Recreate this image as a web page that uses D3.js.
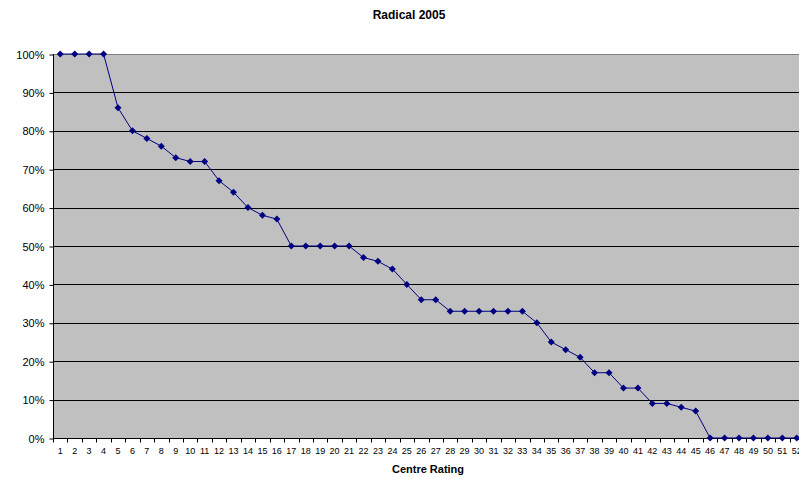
<!DOCTYPE html>
<html>
<head>
<meta charset="utf-8">
<script src="https://cdn.jsdelivr.net/npm/d3@7"></script>
<style>
  body { margin: 0; background: #fff; }
  svg { display: block; font-family: "Liberation Sans", Arial, sans-serif; }
</style>
</head>
<body>
<svg id="chart" width="799" height="479"></svg>
<script>
// centre ratings 1..52
const ratings = d3.range(1, 53);
// percentage of centres at or above each rating
const shares = [
  100, 100, 100, 100, 86, 80, 78, 76, 73, 72,
  72, 67, 64, 60, 58, 57, 50, 50, 50, 50,
  50, 47, 46, 44, 40, 36, 36, 33, 33, 33,
  33, 33, 33, 30, 25, 23, 21, 17, 17, 13,
  13, 9, 9, 8, 7, 0, 0, 0, 0, 0,
  0, 0,
];
const yTicks = d3.range(0, 101, 10);

const svg = d3.select('#chart');
const plot = { left: 53, right: 804, top: 54, bottom: 438 };

const x = d3.scaleBand()
  .domain(ratings)
  .range([plot.left, plot.right]);

const y = d3.scaleLinear()
  .domain([0, 100])
  .range([plot.bottom, plot.top]);

// plot background
svg.append('rect')
  .attr('x', plot.left)
  .attr('y', plot.top)
  .attr('width', plot.right - plot.left)
  .attr('height', plot.bottom - plot.top)
  .attr('fill', '#c0c0c0');

// gridlines
svg.append('g')
  .selectAll('line')
  .data(yTicks.filter(d => d > 0))
  .enter()
  .append('line')
  .attr('x1', plot.left)
  .attr('x2', plot.right)
  .attr('y1', d => Math.round(y(d)) + 0.5)
  .attr('y2', d => Math.round(y(d)) + 0.5)
  .attr('stroke', d => (d === 100 ? '#808080' : '#000'))
  .attr('stroke-width', 1);

// y axis
const yAxis = svg.append('g')
  .attr('transform', `translate(${plot.left + 0.5},0.5)`)
  .call(d3.axisLeft(y)
    .tickValues(yTicks)
    .tickSize(4)
    .tickPadding(5)
    .tickFormat(d => `${d}%`));
yAxis.select('.domain').attr('stroke', '#000').attr('d', `M0,${plot.top - 0.5}V${plot.bottom}`);
yAxis.selectAll('text')
  .attr('font-size', 11)
  .attr('font-family', '"Liberation Sans", Arial, sans-serif')
  .attr('fill', '#000');

// x axis: ticks between categories, labels at centres
const xAxis = svg.append('g')
  .attr('transform', `translate(0,${plot.bottom + 0.5})`);
xAxis.append('line')
  .attr('x1', plot.left)
  .attr('x2', plot.right)
  .attr('stroke', '#000');
xAxis.selectAll('line.tick')
  .data(ratings)
  .enter()
  .append('line')
  .attr('class', 'tick')
  .attr('x1', d => Math.round(x(d)) + 0.5)
  .attr('x2', d => Math.round(x(d)) + 0.5)
  .attr('y1', 0)
  .attr('y2', 4)
  .attr('stroke', '#000');
xAxis.selectAll('text')
  .data(ratings)
  .enter()
  .append('text')
  .attr('x', d => x(d) + x.bandwidth() / 2)
  .attr('y', 15.5)
  .attr('text-anchor', 'middle')
  .attr('font-size', 9)
  .text(d => d);

// line and markers
const pts = ratings.map((r, i) => ({ r, v: shares[i] }));
const cx = d => x(d.r) + x.bandwidth() / 2;

svg.append('path')
  .datum(pts)
  .attr('fill', 'none')
  .attr('stroke', '#000080')
  .attr('stroke-width', 1)
  .attr('d', d3.line().x(cx).y(d => y(d.v)));

svg.append('g')
  .selectAll('path')
  .data(pts)
  .enter()
  .append('path')
  .attr('transform', d => `translate(${cx(d)},${y(d.v)})`)
  .attr('d', 'M0,-3.5L3.5,0L0,3.5L-3.5,0Z')
  .attr('fill', '#000080');

// titles
svg.append('text')
  .attr('x', 409)
  .attr('y', 19)
  .attr('text-anchor', 'middle')
  .attr('font-size', 12)
  .attr('font-weight', 'bold')
  .text('Radical 2005');

svg.append('text')
  .attr('x', 428)
  .attr('y', 473)
  .attr('text-anchor', 'middle')
  .attr('font-size', 11)
  .attr('font-weight', 'bold')
  .text('Centre Rating');
</script>
</body>
</html>
